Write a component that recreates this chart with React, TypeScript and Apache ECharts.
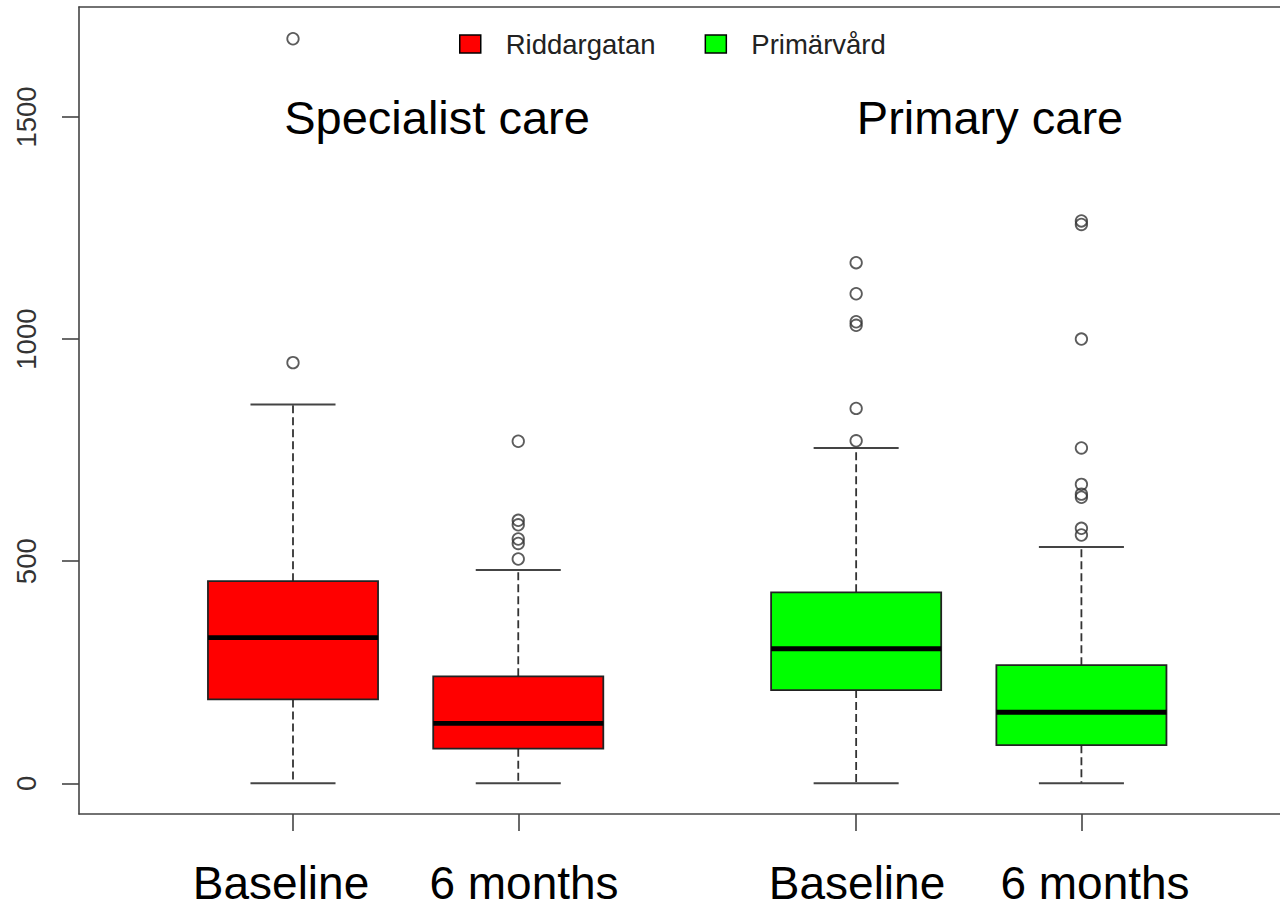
import React, { useEffect, useRef } from "react";
import * as echarts from "echarts";

const groupNames = ["Riddargatan", "Primärvård"];
const groupColors = ["#ff0000", "#00ff00"];
const timeLabels = ["Baseline", "6 months", "Baseline", "6 months"];
const careLabels = ["Specialist care", "Primary care"];
const boxPositions = [1, 2, 3.5, 4.5];
const yTickValues = [0, 500, 1000, 1500];

// [min, Q1, median, Q3, max]
const specBaselineStats = [0, 189, 328, 455, 853];
const spec6mStats = [0, 78, 135, 241, 480];
const primBaselineStats = [0, 210, 303, 430, 755];
const prim6mStats = [0, 86, 160, 266, 532];

const specBaselineOutliers = [1676, 947];
const spec6mOutliers = [770, 592, 582, 550, 540, 505];
const primBaselineOutliers = [1172, 1102, 1039, 1031, 844, 771];
const prim6mOutliers = [1266, 1258, 1000, 755, 673, 651, 644, 574, 559];

const FONT = "'Liberation Sans', Arial, Helvetica, sans-serif";
const BOX_WIDTH = 0.755;
const X_MIN = 0.05;
const X_MAX = 5.3816;

function renderBox(params: any, api: any) {
  const x = api.value(0);
  const vMin = api.value(1);
  const q1 = api.value(2);
  const med = api.value(3);
  const q3 = api.value(4);
  const vMax = api.value(5);
  const w = api.size([BOX_WIDTH, 0])[0];
  const half = w / 2;
  const cap = w / 4;
  const pMin = api.coord([x, vMin]);
  const pQ1 = api.coord([x, q1]);
  const pMed = api.coord([x, med]);
  const pQ3 = api.coord([x, q3]);
  const pMax = api.coord([x, vMax]);
  const cx = pMin[0];
  const color = api.visual("color");
  const dash = { stroke: "#333", lineWidth: 1.8, lineDash: [8, 4] };
  const solid = { stroke: "#444", lineWidth: 2 };
  return {
    type: "group",
    children: [
      { type: "line", shape: { x1: cx, y1: pQ1[1], x2: cx, y2: pMin[1] }, style: dash },
      { type: "line", shape: { x1: cx, y1: pQ3[1], x2: cx, y2: pMax[1] }, style: dash },
      { type: "line", shape: { x1: cx - cap, y1: pMin[1], x2: cx + cap, y2: pMin[1] }, style: solid },
      { type: "line", shape: { x1: cx - cap, y1: pMax[1], x2: cx + cap, y2: pMax[1] }, style: solid },
      {
        type: "rect",
        shape: { x: cx - half, y: pQ3[1], width: w, height: pQ1[1] - pQ3[1] },
        style: { fill: color, stroke: "#222", lineWidth: 1.8 },
      },
      {
        type: "line",
        shape: { x1: cx - half, y1: pMed[1], x2: cx + half, y2: pMed[1] },
        style: { stroke: "#000", lineWidth: 4.8 },
      },
    ],
  };
}

export default function App() {
  const ref = useRef<HTMLDivElement>(null);
  useEffect(() => {
    if (!ref.current) return;
    const chart = echarts.init(ref.current, null, { renderer: "svg" });
    const statsByGroup = [
      [specBaselineStats, spec6mStats],
      [primBaselineStats, prim6mStats],
    ];
    const outByGroup = [
      [specBaselineOutliers, spec6mOutliers],
      [primBaselineOutliers, prim6mOutliers],
    ];
    const series: any[] = [];
    groupNames.forEach((name, g) => {
      const pos = [boxPositions[g * 2], boxPositions[g * 2 + 1]];
      series.push({
        type: "custom",
        name,
        renderItem: renderBox,
        itemStyle: { color: groupColors[g], borderColor: "#000" },
        encode: { x: 0, y: [1, 2, 3, 4, 5] },
        data: statsByGroup[g].map((s, i) => [pos[i], ...s]),
        z: 2,
      });
      series.push({
        type: "scatter",
        name: name + " outliers",
        symbol: "circle",
        symbolSize: 11.5,
        itemStyle: { color: "rgba(0,0,0,0)", borderColor: "#333", borderWidth: 1.8 },
        data: outByGroup[g].flatMap((arr, i) => arr.map((v) => [pos[i], v])),
        z: 3,
        silent: true,
      });
    });
    const timeX = [281, 524, 857, 1095];
    const careX = [437, 990];
    const textStyle = (t: string, size: number) => ({
      text: t,
      fontSize: size,
      lineHeight: 36,
      fontFamily: FONT,
      fill: "#000",
      textAlign: "center",
      textVerticalAlign: "middle",
      align: "center",
      verticalAlign: "middle",
    });
    const graphics: any[] = [];
    timeLabels.forEach((t, i) => {
      graphics.push({ type: "text", x: timeX[i], y: 883, style: textStyle(t, 46) });
    });
    careLabels.forEach((t, i) => {
      graphics.push({ type: "text", x: careX[i], y: 117, style: textStyle(t, 47) });
    });
    const axisLineStyle = { color: "#444", width: 1.6 };
    chart.setOption({
      animation: false,
      backgroundColor: "#fff",
      grid: {
        left: 79,
        top: 7,
        right: 0,
        height: 807,
        show: false,
      },
      legend: {
        data: groupNames,
        left: 459,
        top: 30,
        padding: 0,
        icon: "rect",
        itemWidth: 21,
        itemHeight: 18,
        itemGap: 49,
        selectedMode: false,
        itemStyle: { borderColor: "#000", borderWidth: 1.5 },
        textStyle: { fontSize: 27.5, color: "#222", fontFamily: FONT, padding: [2, 0, 0, 20] },
      },
      xAxis: [
        {
          type: "value",
          position: "bottom",
          min: X_MIN,
          max: X_MAX,
          axisLine: { show: true, onZero: false, lineStyle: axisLineStyle },
          splitLine: { show: false },
          axisTick: {
            show: true,
            length: 17,
            customValues: boxPositions,
            lineStyle: axisLineStyle,
          },
          axisLabel: { show: false },
        },
        {
          type: "value",
          position: "top",
          min: X_MIN,
          max: X_MAX,
          axisLine: { show: true, onZero: false, lineStyle: axisLineStyle },
          splitLine: { show: false },
          axisTick: { show: false },
          axisLabel: { show: false },
        },
      ],
      yAxis: {
        type: "value",
        min: -69,
        max: 1747.5,
        axisLine: { show: true, onZero: false, lineStyle: axisLineStyle },
        splitLine: { show: false },
        axisTick: {
          show: true,
          length: 17,
          customValues: yTickValues,
          lineStyle: axisLineStyle,
        },
        axisLabel: {
          show: true,
          customValues: yTickValues,
          formatter: (v: number) => String(v),
          rotate: 90,
          margin: 39,
          fontSize: 27.5,
          color: "#333",
          fontFamily: FONT,
        },
      },
      graphic: graphics,
      series,
    });
    return () => chart.dispose();
  }, []);
  return (
    <div
      ref={ref}
      style={{ position: "absolute", left: 0, top: 0, width: 1280, height: 909, background: "#fff" }}
    />
  );
}
